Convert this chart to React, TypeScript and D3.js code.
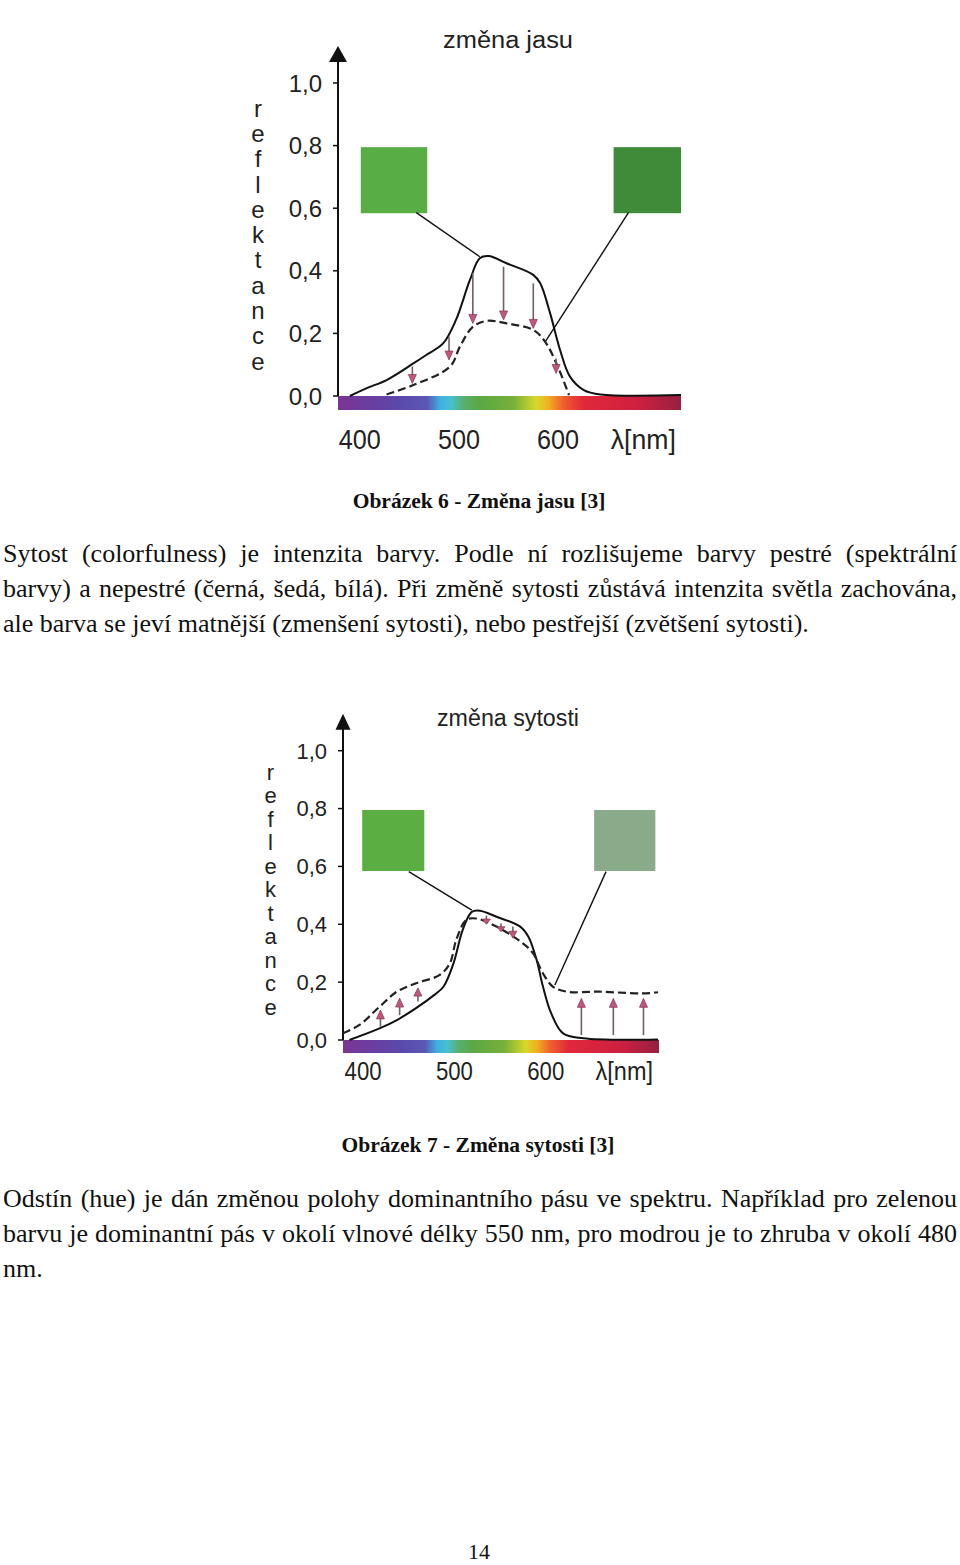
import React, { useEffect, useRef } from 'react';
import * as d3 from 'd3';

// wavelength axis (nm) shared by both figures
const nmDomain: [number, number] = [378, 724];
const yTicks = [0, 0.2, 0.4, 0.6, 0.8, 1.0];
const xTicks = [400, 500, 600];

// Obrázek 6 – změna jasu: [nm, reflektance]
const jasPuvodni: [number, number][] = [
  [390, 0], [407, 0.025], [427, 0.051], [454, 0.104], [467, 0.131], [484, 0.168],
  [497, 0.243], [511, 0.37], [521, 0.44], [530, 0.447], [548, 0.424], [575, 0.387],
  [582, 0.36], [592, 0.264], [602, 0.147], [612, 0.062], [626, 0.019], [643, 0.005], [724, 0.003],
];
const jasTmavsi: [number, number][] = [
  [427, 0.005], [454, 0.035], [491, 0.094], [501, 0.158], [514, 0.221], [528, 0.24],
  [548, 0.232], [575, 0.211], [587, 0.173], [599, 0.099], [611, 0.003],
];
// [nm, od, do]
const jasSipky: [number, number, number][] = [
  [453, 0.094, 0.04], [490, 0.19, 0.115], [514, 0.392, 0.232],
  [545, 0.413, 0.243], [575, 0.36, 0.216], [598, 0.12, 0.072],
];

// Obrázek 7 – změna sytosti
const sytPuvodni: [number, number][] = [
  [385, 0], [418, 0.04], [437, 0.069], [458, 0.11], [478, 0.156], [488, 0.184],
  [499, 0.265], [509, 0.38], [519, 0.443], [528, 0.447], [546, 0.426], [572, 0.392],
  [581, 0.357], [590, 0.277], [597, 0.184], [606, 0.092], [619, 0.023], [641, 0.006], [723, 0.002],
];
const sytMatnejsi: [number, number][] = [
  [378, 0.023], [396, 0.052], [418, 0.115], [437, 0.167], [458, 0.196], [484, 0.225],
  [495, 0.265], [502, 0.346], [513, 0.415], [524, 0.42], [546, 0.392], [575, 0.334],
  [586, 0.3], [597, 0.23], [608, 0.184], [623, 0.167], [659, 0.167], [706, 0.161], [723, 0.165],
];
const sytSipky: [number, number, number][] = [
  [419, 0.046, 0.104], [440, 0.086, 0.145], [460, 0.133, 0.18],
  [535, 0.43, 0.4], [551, 0.403, 0.374], [564, 0.392, 0.352],
  [639, 0.017, 0.144], [674, 0.017, 0.144], [707, 0.017, 0.144],
];

const swatchColors1 = ['#58ad44', '#3f8b3a'];
const swatchColors2 = ['#5bae42', '#8aab89'];

const spectrumStops: [number, string][] = [
  [378, '#7a3494'], [410, '#6a3ea0'], [440, '#5b48ab'], [468, '#5a58b4'],
  [481, '#40b0e2'], [492, '#46c0d0'], [505, '#5aae6c'], [520, '#5aa845'],
  [555, '#78b03a'], [578, '#d8d82a'], [590, '#f0b020'], [605, '#f06030'],
  [625, '#e0283a'], [680, '#cf2040'], [724, '#962040'],
];

const para1 = [
  'Sytost (colorfulness) je intenzita barvy. Podle ní rozlišujeme barvy pestré (spektrální',
  'barvy) a nepestré (černá, šedá, bílá). Při změně sytosti zůstává intenzita světla zachována,',
  'ale barva se jeví matnější (zmenšení sytosti), nebo pestřejší (zvětšení sytosti).',
];
const para2 = [
  'Odstín (hue) je dán změnou polohy dominantního pásu ve spektru. Například pro zelenou',
  'barvu je dominantní pás v okolí vlnové délky 550 nm, pro modrou je to zhruba v okolí 480',
  'nm.',
];
const yLabel = 'reflektance';

const SANS = '"Liberation Sans", Arial, sans-serif';
const SERIF = '"Liberation Serif", "Times New Roman", serif';

const fmt = (v: number) => d3.format('.1f')(v).replace('.', ',');

function Chart({ cfg, solid, dashed, arrows, swatchColors }: any) {
  const x = d3.scaleLinear().domain(nmDomain).range(cfg.xRange);
  const y = d3.scaleLinear().domain([0, 1]).range(cfg.yRange);
  const line = d3.line<[number, number]>()
    .x(d => x(d[0]))
    .y(d => y(d[1]))
    .curve(d3.curveCatmullRom.alpha(0.5));

  const ax = x(nmDomain[0]);
  const tip = y(1) - 37;
  const gid = `spec-${cfg.id}`;
  const span = nmDomain[1] - nmDomain[0];

  const letterStep = (cfg.labelY[1] - cfg.labelY[0]) / (yLabel.length - 1);

  return (
    <g>
      <defs>
        <linearGradient id={gid} x1="0" x2="1" y1="0" y2="0">
          {spectrumStops.map(([nm, c]) => (
            <stop key={nm} offset={(nm - nmDomain[0]) / span} stopColor={c} />
          ))}
        </linearGradient>
      </defs>

      {/* title */}
      <text x={cfg.titleX} y={cfg.titleY} fontFamily={SANS} fontSize={23} fill="#222"
        textLength={cfg.titleW} lengthAdjust="spacingAndGlyphs">{cfg.title}</text>

      {/* swatches */}
      {cfg.swatches.map((s: number[], i: number) => (
        <rect key={i} x={x(s[0])} y={y(0.795)} width={x(s[1]) - x(s[0])} height={y(0.584) - y(0.795)}
          fill={swatchColors[i]} />
      ))}
      {cfg.leaders.map((l: number[], i: number) => (
        <line key={i} x1={x(l[0])} y1={y(l[1])} x2={x(l[2])} y2={y(l[3])} stroke="#111" strokeWidth={1.4} />
      ))}

      {/* spectrum bar */}
      <rect x={ax} y={y(0)} width={x(nmDomain[1]) - ax} height={cfg.barH} fill={`url(#${gid})`} />

      {/* y axis */}
      <line x1={ax} x2={ax} y1={tip + 14} y2={y(0)} stroke="#111" strokeWidth={2} />
      <path d={`M${ax},${tip} L${ax - cfg.headW},${tip + 16} L${ax + cfg.headW},${tip + 16} Z`} fill="#111" />
      {yTicks.map(t => (
        <g key={t}>
          <line x1={ax - 5} x2={ax} y1={y(t)} y2={y(t)} stroke="#111" strokeWidth={1.5} />
          <text x={ax - 16} y={y(t)} dy="0.36em" textAnchor="end" fontFamily={SANS}
            fontSize={cfg.yFont} fill="#222">{fmt(t)}</text>
        </g>
      ))}
      {yLabel.split('').map((ch, i) => (
        <text key={i} x={cfg.labelX} y={cfg.labelY[0] + i * letterStep} dy="0.36em" textAnchor="middle"
          fontFamily={SANS} fontSize={cfg.yFont} fill="#222">{ch}</text>
      ))}

      {/* x labels */}
      {xTicks.map(t => (
        <text key={t} x={x(t)} y={cfg.xLabelY} textAnchor="middle" fontFamily={SANS}
          fontSize={cfg.xFont} fill="#222" textLength={cfg.xLabelW} lengthAdjust="spacingAndGlyphs">{t}</text>
      ))}
      <text x={x(686)} y={cfg.xLabelY} textAnchor="middle" fontFamily={SANS} fontSize={cfg.xFont}
        fill="#222" textLength={cfg.xLabelW * 1.55} lengthAdjust="spacingAndGlyphs">λ[nm]</text>

      {/* curves */}
      <path d={line(solid) || ''} fill="none" stroke="#111" strokeWidth={2} />
      <path d={line(dashed) || ''} fill="none" stroke="#222" strokeWidth={2.2} strokeDasharray="8,4" />

      {/* arrows */}
      {arrows.map(([nm, a, b]: number[], i: number) => {
        const px = x(nm);
        const y0 = y(a);
        const y1 = y(b);
        const dir = y1 > y0 ? 1 : -1;
        const hl = Math.min(9, Math.abs(y1 - y0) * 0.6);
        return (
          <g key={i}>
            <line x1={px} x2={px} y1={y0} y2={y1 - dir * hl * 0.6} stroke="#6f6068" strokeWidth={1.6} />
            <path d={`M${px},${y1} L${px - 4},${y1 - dir * hl} L${px + 4},${y1 - dir * hl} Z`}
              fill="#c0587a" stroke="#8a3050" strokeWidth={0.7} />
          </g>
        );
      })}
    </g>
  );
}

const cfg1 = {
  id: 'jas', title: 'změna jasu', titleX: 443, titleY: 48, titleW: 130,
  xRange: [338, 681], yRange: [396, 83], barH: 14, headW: 9,
  yFont: 24, xFont: 28, xLabelY: 449, xLabelW: 42,
  labelX: 258, labelY: [108, 361],
  swatches: [[401, 468], [656, 724]],
  leaders: [[457, 0.586, 521, 0.445], [671, 0.586, 587, 0.173]],
};
const cfg2 = {
  id: 'syt', title: 'změna sytosti', titleX: 437, titleY: 726, titleW: 142,
  xRange: [343, 659], yRange: [1040, 750.7], barH: 13, headW: 7.5,
  yFont: 22, xFont: 25, xLabelY: 1080, xLabelW: 37,
  labelX: 270.5, labelY: [771.7, 1006.7],
  swatches: [[399, 467], [653, 720]],
  leaders: [[450, 0.582, 519, 0.449], [666, 0.582, 610, 0.19]],
};

export default function App() {
  const svgRef = useRef<SVGSVGElement>(null);

  useEffect(() => {
    if (!svgRef.current) return;
    // justify paragraph lines to the text block width
    d3.select(svgRef.current).selectAll<SVGTextElement, unknown>('text.justify').each(function () {
      this.style.wordSpacing = '0px';
      const w = this.getComputedTextLength();
      const n = (this.textContent || '').split(' ').length - 1;
      if (n > 0) this.style.wordSpacing = `${(954 - w) / n}px`;
    });
  }, []);

  const paraLines = (lines: string[], y0: number) =>
    lines.map((t, i) => (
      <text key={i} className={i < lines.length - 1 ? 'justify' : ''} x={3} y={y0 + i * 35}
        fontFamily={SERIF} fontSize={26} fill="#111">{t}</text>
    ));

  return (
    <div style={{ position: 'absolute', left: 0, top: 0 }}>
      <svg ref={svgRef} width={960} height={1565} style={{ display: 'block', background: '#fff' }}>
        <Chart cfg={cfg1} solid={jasPuvodni} dashed={jasTmavsi} arrows={jasSipky} swatchColors={swatchColors1} />
        <text x={479} y={508} textAnchor="middle" fontFamily={SERIF} fontWeight="bold" fontSize={21.5} fill="#111">
          Obrázek 6 - Změna jasu [3]
        </text>
        {paraLines(para1, 562)}

        <Chart cfg={cfg2} solid={sytPuvodni} dashed={sytMatnejsi} arrows={sytSipky} swatchColors={swatchColors2} />
        <text x={478} y={1152} textAnchor="middle" fontFamily={SERIF} fontWeight="bold" fontSize={21.5} fill="#111">
          Obrázek 7 - Změna sytosti [3]
        </text>
        {paraLines(para2, 1207)}

        <text x={479} y={1559} textAnchor="middle" fontFamily={SERIF} fontSize={22} fill="#111">14</text>
      </svg>
    </div>
  );
}
